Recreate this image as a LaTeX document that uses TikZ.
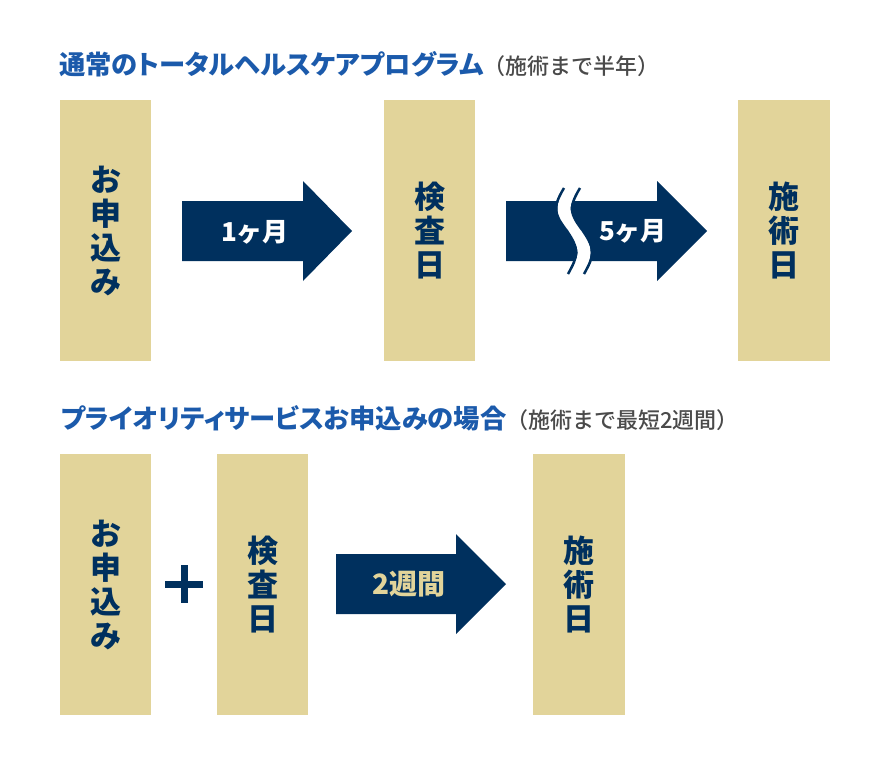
\documentclass[tikz,border=0pt]{standalone}
\usepackage{fontspec}
\setmainfont{Noto Sans CJK JP}
\newfontfamily\jpt{Noto Sans CJK JP}[RawFeature=+palt]
\newfontfamily\jpm{Noto Sans CJK JP Medium}
\usepackage{xcolor}
\definecolor{navy}{HTML}{00305E}
\definecolor{beige}{HTML}{E2D49A}
\definecolor{titleBlue}{HTML}{1B5AAB}
\definecolor{noteGray}{HTML}{4A4A4A}

\begin{document}
\begin{tikzpicture}[
    x=1pt, y=-1pt,
    box/.style={
        rectangle,
        minimum width=91pt,
        minimum height=261pt,
        inner sep=0,
        fill=beige,
        text=navy,
        align=center,
        font=\bfseries\fontsize{31}{34}\selectfont,
      },
    arr/.style={fill=navy},
    lbl/.style={inner sep=0, text=white, font=\bfseries\fontsize{26}{30}\selectfont},
    ttl/.style={anchor=west, inner sep=0, text=titleBlue, font=\jpt\bfseries\fontsize{26.3}{30}\selectfont},
    brk/.style={line width=13pt, draw=white},
    edge/.style={line width=2.5pt, draw=navy},
  ]
  \useasboundingbox (0,0) rectangle (884,763);

  % titles
  \node[ttl] (t1) at (59,64) {通常のトータルヘルスケアプログラム{\jpm\mdseries\color{noteGray}\fontsize{22}{26}\selectfont （施術まで半年）}};
  \node[ttl] (t2) at (61,418.5) {プライオリティサービスお申込みの場合{\jpm\mdseries\color{noteGray}\fontsize{22}{26}\selectfont （施術まで最短2週間）}};

  % normal program
  \node[box] (apply1) at (105.5,230.5) {お\\申\\込\\み};
  \node[box] (exam1) at (429.5,230.5) {検\\査\\日};
  \node[box, minimum width=92pt] (surg1) at (784,230.5) {施\\術\\日};

  \fill[arr] (182,201) -- (303,201) -- (303,181) -- (352,231) -- (303,281) -- (303,261) -- (182,261) -- cycle;
  \fill[arr] (506,201) -- (657,201) -- (657,181) -- (707,231) -- (657,281) -- (657,261) -- (506,261) -- cycle;

  % break in the second arrow
  \draw[brk] (572,188) .. controls (560,208) and (562,214) .. (575,231) .. controls (588,250) and (586,256) .. (576,274);
  \begin{scope}[xshift=-8pt]
    \draw[edge] (572,188) .. controls (560,208) and (562,214) .. (575,231) .. controls (588,250) and (586,256) .. (576,274);
  \end{scope}
  \begin{scope}[xshift=8pt]
    \draw[edge] (572,188) .. controls (560,208) and (562,214) .. (575,231) .. controls (588,250) and (586,256) .. (576,274);
  \end{scope}

  \node[lbl] (m1) at (255,232) {1ヶ月};
  \node[lbl] (m5) at (633,231) {5ヶ月};

  % priority service
  \node[box] (apply2) at (105.5,584.5) {お\\申\\込\\み};
  \node[box] (exam2) at (262.5,584.5) {検\\査\\日};
  \node[box, minimum width=92pt] (surg2) at (579,584.5) {施\\術\\日};

  \draw[navy, line width=7pt] (165,584) -- (203,584) (184,565) -- (184,603);

  \fill[arr] (336,554) -- (456,554) -- (456,534) -- (506,584) -- (456,634) -- (456,614) -- (336,614) -- cycle;
  \node[lbl, text=beige, font=\bfseries\fontsize{28}{32}\selectfont] (w2) at (409,584) {2週間};
\end{tikzpicture}
\end{document}
